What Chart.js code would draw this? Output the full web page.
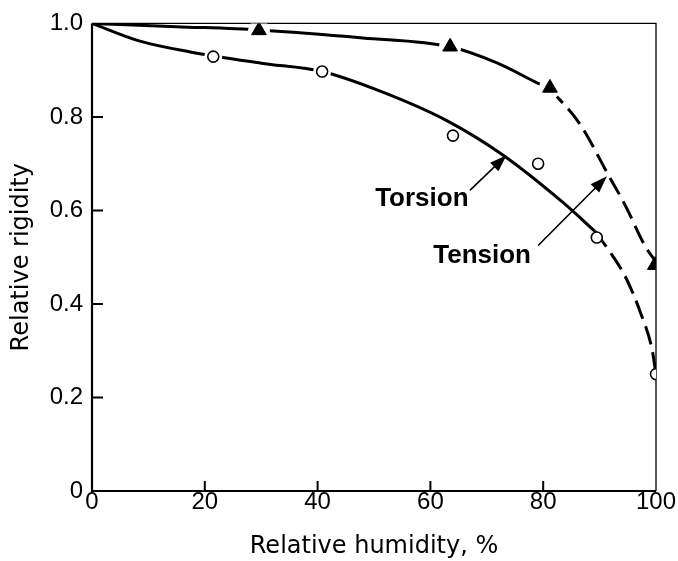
<!DOCTYPE html>
<html>
<head>
<meta charset="utf-8">
<script src="https://cdn.jsdelivr.net/npm/chart.js@4.4.1/dist/chart.umd.min.js"></script>
<style>
  html, body { margin: 0; padding: 0; background: #ffffff; }
  #wrap { width: 678px; height: 561px; }
</style>
</head>
<body>
<div id="wrap"><canvas id="c" width="678" height="561"></canvas></div>
<script>
// ---- data ----
const xTickValues = [0, 20, 40, 60, 80, 100];
const xTickLabels = ['0', '20', '40', '60', '80', '100'];
const yTickValues = [0, 0.2, 0.4, 0.6, 0.8, 1.0];
const yTickLabels = ['0', '0.2', '0.4', '0.6', '0.8', '1.0'];

// measured points
const tensionX = [29.6, 63.5, 81.2, 99.8];
const tensionY = [0.985, 0.950, 0.862, 0.483];
const torsionX = [21.5, 40.8, 64.0, 79.1, 89.5, 100.0];
const torsionY = [0.929, 0.897, 0.760, 0.700, 0.542, 0.250];

// fitted curves (solid part and dashed extrapolation)
const tensionFitX = [0, 15, 29.6, 48, 63.5, 71.7, 79.4, 81.2];
const tensionFitY = [1.0, 0.993, 0.986, 0.969, 0.950, 0.916, 0.870, 0.860];
const tensionDashX = [81.2, 86.5, 91.5, 94.5, 98.2, 99.7];
const tensionDashY = [0.860, 0.785, 0.677, 0.612, 0.521, 0.495];
const torsionFitX = [0, 8.5, 17.4, 30, 40.8, 51.1, 62.9, 72.9, 83.6, 89.2];
const torsionFitY = [1.0, 0.962, 0.939, 0.915, 0.897, 0.855, 0.792, 0.718, 0.616, 0.555];
const torsionDashX = [89.2, 92.2, 94.7, 97.2, 99.3, 100.0];
const torsionDashY = [0.555, 0.505, 0.455, 0.383, 0.303, 0.250];

// annotations (data coordinates)
const noteTexts = ['Torsion', 'Tension'];
const noteX = [50.2, 60.5];
const noteY = [0.610, 0.487];
const arrowFromX = [67.0, 79.1];
const arrowFromY = [0.643, 0.525];
const arrowToX = [73.5, 91.3];
const arrowToY = [0.718, 0.673];

const xTitle = 'Relative humidity, %';
const yTitle = 'Relative rigidity';

// ---- build ----
const pts = (xs, ys) => xs.map((x, i) => ({ x: x, y: ys[i] }));
const haloFilter = (xs, ys) => pts(xs, ys).filter(p => p.x < 95);

const lineCommon = {
  showLine: true,
  borderColor: '#000',
  borderWidth: 3,
  pointRadius: 0,
  pointHoverRadius: 0,
  cubicInterpolationMode: 'monotone',
  fill: false
};

const datasets = [
  Object.assign({}, lineCommon, { label: 'tensionFit', data: pts(tensionFitX, tensionFitY), order: 5 }),
  Object.assign({}, lineCommon, { label: 'tensionDash', data: pts(tensionDashX, tensionDashY), borderDash: [19, 8], order: 5 }),
  Object.assign({}, lineCommon, { label: 'torsionFit', data: pts(torsionFitX, torsionFitY), order: 5 }),
  Object.assign({}, lineCommon, { label: 'torsionDash', data: pts(torsionDashX, torsionDashY), borderDash: [19, 8], order: 5 }),
  { label: 'tensionHalo', data: haloFilter(tensionX, tensionY), showLine: false, pointStyle: 'circle',
    pointRadius: 11, pointBackgroundColor: '#fff', pointBorderWidth: 0, pointBorderColor: '#fff', order: 3 },
  { label: 'torsionHalo', data: haloFilter(torsionX, torsionY).filter(p => p.x < 45), showLine: false, pointStyle: 'circle',
    pointRadius: 9, pointBackgroundColor: '#fff', pointBorderWidth: 0, pointBorderColor: '#fff', order: 3 },
  { label: 'Tension', data: pts(tensionX, tensionY), showLine: false, pointStyle: 'triangle',
    pointRadius: 8.5, pointBackgroundColor: '#000', pointBorderColor: '#000', pointBorderWidth: 1, order: 1 },
  { label: 'Torsion', data: pts(torsionX, torsionY), showLine: false, pointStyle: 'circle',
    pointRadius: 5.5, pointBackgroundColor: '#fff', pointBorderColor: '#000', pointBorderWidth: 1.6, order: 1 }
];

const framePlugin = {
  id: 'frame',
  beforeDatasetsDraw(chart) {
    const { ctx, chartArea: a, scales } = chart;
    ctx.save();
    ctx.strokeStyle = '#000';
    ctx.lineWidth = 1.3;
    ctx.beginPath();
    ctx.moveTo(a.left, a.top); ctx.lineTo(a.right, a.top); ctx.lineTo(a.right, a.bottom);
    ctx.stroke();
    ctx.lineWidth = 2.2;
    ctx.beginPath();
    ctx.moveTo(a.left, a.top); ctx.lineTo(a.left, a.bottom); ctx.lineTo(a.right, a.bottom);
    ctx.stroke();
    ctx.lineWidth = 2;
    ctx.beginPath();
    yTickValues.forEach(v => {
      if (v <= 0 || v >= 1) return;
      const y = scales.y.getPixelForValue(v);
      ctx.moveTo(a.left, y); ctx.lineTo(a.left + 11, y);
    });
    xTickValues.forEach(v => {
      if (v <= 0 || v >= 100) return;
      const x = scales.x.getPixelForValue(v);
      ctx.moveTo(x, a.bottom); ctx.lineTo(x, a.bottom - 10);
    });
    ctx.stroke();
    ctx.restore();
  },
  afterDatasetsDraw(chart) {
    const { ctx, scales } = chart;
    ctx.save();
    ctx.fillStyle = '#000';
    ctx.strokeStyle = '#000';
    ctx.font = 'bold 26px "Liberation Sans", Arial, sans-serif';
    ctx.textBaseline = 'alphabetic';
    ctx.textAlign = 'left';
    noteTexts.forEach((t, i) => {
      ctx.fillText(t, scales.x.getPixelForValue(noteX[i]), scales.y.getPixelForValue(noteY[i]));
      const x0 = scales.x.getPixelForValue(arrowFromX[i]);
      const y0 = scales.y.getPixelForValue(arrowFromY[i]);
      const x1 = scales.x.getPixelForValue(arrowToX[i]);
      const y1 = scales.y.getPixelForValue(arrowToY[i]);
      const ang = Math.atan2(y1 - y0, x1 - x0);
      const L = 17, W = 6;
      ctx.lineWidth = 1.6;
      ctx.beginPath();
      ctx.moveTo(x0, y0);
      ctx.lineTo(x1 - Math.cos(ang) * L * 0.8, y1 - Math.sin(ang) * L * 0.8);
      ctx.stroke();
      const bx = x1 - Math.cos(ang) * L, by = y1 - Math.sin(ang) * L;
      ctx.beginPath();
      ctx.moveTo(x1, y1);
      ctx.lineTo(bx + Math.sin(ang) * W, by - Math.cos(ang) * W);
      ctx.lineTo(bx - Math.sin(ang) * W, by + Math.cos(ang) * W);
      ctx.closePath();
      ctx.fill();
    });
    ctx.restore();
  }
};

new Chart(document.getElementById('c'), {
  type: 'scatter',
  data: { datasets: datasets },
  plugins: [framePlugin],
  options: {
    responsive: false,
    animation: false,
    devicePixelRatio: 1,
    layout: { padding: { top: 18, right: 22, left: 0, bottom: 0 } },
    plugins: { legend: { display: false }, tooltip: { enabled: false } },
    events: [],
    scales: {
      x: {
        type: 'linear', min: 0, max: 100,
        afterBuildTicks: s => { s.ticks = xTickValues.map(v => ({ value: v })); },
        ticks: {
          callback: (v, i) => xTickLabels[i],
          color: '#000', padding: -3, maxRotation: 0, autoSkip: false,
          font: { family: '"Liberation Sans", Arial, sans-serif', size: 24 }
        },
        grid: { display: false, drawTicks: false },
        border: { display: false },
        afterFit: s => { s.height = 70; },
        title: {
          display: true, text: xTitle, color: '#000',
          font: { family: '"DejaVu Sans", sans-serif', size: 24 },
          padding: { top: 0, bottom: 0 }
        }
      },
      y: {
        type: 'linear', min: 0, max: 1,
        afterBuildTicks: s => { s.ticks = yTickValues.map(v => ({ value: v })); },
        ticks: {
          callback: (v, i) => yTickLabels[i],
          color: '#000', padding: 9, autoSkip: false,
          font: { family: '"Liberation Sans", Arial, sans-serif', size: 24 }
        },
        grid: { display: false, drawTicks: false },
        border: { display: false },
        afterFit: s => { s.width = 92; },
        title: {
          display: true, text: yTitle, color: '#000',
          font: { family: '"DejaVu Sans", sans-serif', size: 24 },
          padding: { top: 7, bottom: 0 }
        }
      }
    }
  }
});
</script>
</body>
</html>
